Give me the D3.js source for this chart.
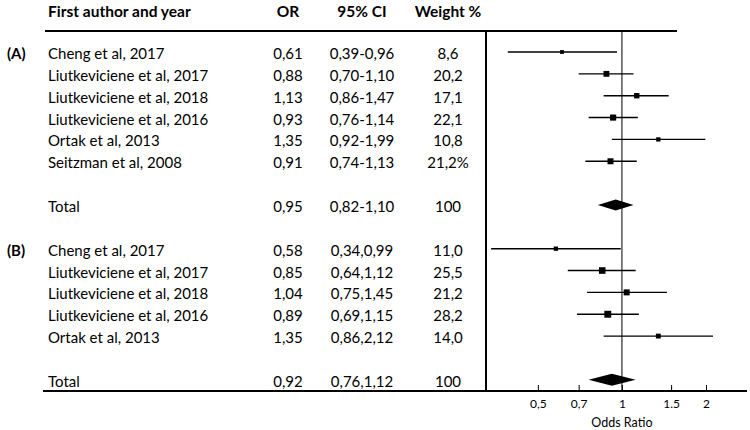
<!DOCTYPE html>
<html><head><meta charset="utf-8">
<script src="https://cdn.jsdelivr.net/npm/d3@7"></script>
<style>body{margin:0;background:#fff}svg{display:block}</style>
</head><body>
<svg id="chart" width="750" height="430"></svg>
<script>
// ---- data ----
const studiesA = ["Cheng et al, 2017","Liutkeviciene et al, 2017","Liutkeviciene et al, 2018","Liutkeviciene et al, 2016","Ortak et al, 2013","Seitzman et al, 2008"];
const orA = [0.61,0.88,1.13,0.93,1.35,0.91];
const lowA = [0.39,0.70,0.86,0.76,0.92,0.74];
const highA = [0.96,1.10,1.47,1.14,1.99,1.13];
const weightA = [8.6,20.2,17.1,22.1,10.8,21.2];
const orLabelsA = ["0,61","0,88","1,13","0,93","1,35","0,91"];
const ciLabelsA = ["0,39-0,96","0,70-1,10","0,86-1,47","0,76-1,14","0,92-1,99","0,74-1,13"];
const weightLabelsA = ["8,6","20,2","17,1","22,1","10,8","21,2%"];
const totalA = {or:0.95, low:0.82, high:1.10, orLabel:"0,95", ciLabel:"0,82-1,10", wLabel:"100"};

const studiesB = ["Cheng et al, 2017","Liutkeviciene et al, 2017","Liutkeviciene et al, 2018","Liutkeviciene et al, 2016","Ortak et al, 2013"];
const orB = [0.58,0.85,1.04,0.89,1.35];
const lowB = [0.34,0.64,0.75,0.69,0.86];
const highB = [0.99,1.12,1.45,1.15,2.12];
const weightB = [11.0,25.5,21.2,28.2,14.0];
const orLabelsB = ["0,58","0,85","1,04","0,89","1,35"];
const ciLabelsB = ["0,34,0,99","0,64,1,12","0,75,1,45","0,69,1,15","0,86,2,12"];
const weightLabelsB = ["11,0","25,5","21,2","28,2","14,0"];
const totalB = {or:0.92, low:0.76, high:1.12, orLabel:"0,92", ciLabel:"0,76,1,12", wLabel:"100"};

const tickValues = [0.5,0.7,1,1.5,2];
const tickLabels = ["0,5","0,7","1","1.5","2"];
const headers = ["First author and year","OR","95% CI","Weight %"];

// ---- layout ----
const svg = d3.select("#chart");
const FONT = "Lato, 'Open Sans', sans-serif";
const yTop = 31, yBottom = 391;
const plotL = 486, plotR = 747;
const x = d3.scaleLog().domain([0.326, 2.805]).range([plotL, plotR]);
const y = d3.scaleLinear().domain([0, 15]).range([52, 379.8]);
const colName = 48, colOR = 288, colCI = 362, colW = 448;

// rows
const rows = [];
studiesA.forEach((s,i)=>rows.push({idx:i, name:s, or:orA[i], low:lowA[i], high:highA[i], w:weightA[i], orL:orLabelsA[i], ciL:ciLabelsA[i], wL:weightLabelsA[i], group: i===0?"(A)":null}));
rows.push({idx:7, name:"Total", total:true, or:totalA.or, low:totalA.low, high:totalA.high, orL:totalA.orLabel, ciL:totalA.ciLabel, wL:totalA.wLabel});
studiesB.forEach((s,i)=>rows.push({idx:9+i, name:s, or:orB[i], low:lowB[i], high:highB[i], w:weightB[i], orL:orLabelsB[i], ciL:ciLabelsB[i], wL:weightLabelsB[i], group: i===0?"(B)":null}));
rows.push({idx:15, name:"Total", total:true, or:totalB.or, low:totalB.low, high:totalB.high, orL:totalB.orLabel, ciL:totalB.ciLabel, wL:totalB.wLabel});

// headers
const hx = [colName, colOR, colCI, colW];
const ha = ["start","middle","middle","middle"];
svg.selectAll("text.hdr").data(headers).join("text")
  .attr("class","hdr").attr("x",(d,i)=>hx[i]).attr("y",11)
  .attr("text-anchor",(d,i)=>ha[i]).attr("dominant-baseline","central")
  .attr("font-family",FONT).attr("font-weight","bold").attr("font-size",15.5).attr("fill","#000")
  .text(d=>d);

// lines
svg.append("line").attr("x1",45).attr("x2",677).attr("y1",yTop).attr("y2",yTop).attr("stroke","#000").attr("stroke-width",2.2);
svg.append("line").attr("x1",43).attr("x2",plotR).attr("y1",yBottom).attr("y2",yBottom).attr("stroke","#000").attr("stroke-width",2.2);
svg.append("line").attr("x1",plotL).attr("x2",plotL).attr("y1",yTop).attr("y2",yBottom).attr("stroke","#000").attr("stroke-width",2);
svg.append("line").attr("x1",x(1)).attr("x2",x(1)).attr("y1",yTop).attr("y2",yBottom).attr("stroke","#000").attr("stroke-width",1);

// table text
const g = svg.append("g").attr("font-family",FONT).attr("font-size",15).attr("fill","#000");
const rowG = g.selectAll("g.row").data(rows).join("g").attr("class","row");
rowG.filter(d=>d.group).append("text").attr("x",7).attr("y",d=>y(d.idx)+1).attr("dominant-baseline","central")
  .attr("font-weight","bold").text(d=>d.group);
rowG.append("text").attr("x",colName).attr("y",d=>y(d.idx)+1).attr("dominant-baseline","central").text(d=>d.name);
rowG.append("text").attr("x",colOR).attr("y",d=>y(d.idx)+1).attr("text-anchor","middle").attr("dominant-baseline","central").text(d=>d.orL);
rowG.append("text").attr("x",colCI).attr("y",d=>y(d.idx)+1).attr("text-anchor","middle").attr("dominant-baseline","central").text(d=>d.ciL);
rowG.append("text").attr("x",colW).attr("y",d=>y(d.idx)+1).attr("text-anchor","middle").attr("dominant-baseline","central").text(d=>d.wL);

// forest marks
const studies = rows.filter(d=>!d.total);
svg.selectAll("line.ci").data(studies).join("line").attr("class","ci")
  .attr("x1",d=>x(d.low)).attr("x2",d=>x(d.high)).attr("y1",d=>y(d.idx)).attr("y2",d=>y(d.idx))
  .attr("stroke","#000").attr("stroke-width",1.4);
const side = d => 1.3*Math.sqrt(d.w);
svg.selectAll("rect.pt").data(studies).join("rect").attr("class","pt")
  .attr("x",d=>x(d.or)-side(d)/2).attr("y",d=>y(d.idx)-side(d)/2)
  .attr("width",side).attr("height",side).attr("fill","#000");
const totals = rows.filter(d=>d.total);
svg.selectAll("path.dia").data(totals).join("path").attr("class","dia")
  .attr("d",d=>{const cy=y(d.idx), h=d.idx>10?6:5.5;
    return `M${x(d.low)},${cy}L${x(d.or)},${cy-h}L${x(d.high)},${cy}L${x(d.or)},${cy+h}Z`;})
  .attr("fill","#000");

// axis
const axis = d3.axisTop(x).tickValues(tickValues).tickFormat((d,i)=>tickLabels[i]).tickSize(6);
const ax = svg.append("g").attr("transform",`translate(0,${yBottom})`).call(axis);
ax.select(".domain").remove();
ax.selectAll(".tick line").attr("stroke","#000");
ax.selectAll(".tick text").attr("y",8).attr("dy","0.71em").attr("font-family",FONT).attr("font-size",12).attr("fill","#000");
svg.append("text").attr("x",x(1)).attr("y",422).attr("text-anchor","middle").attr("dominant-baseline","central")
  .attr("font-family",FONT).attr("font-size",12.5).text("Odds Ratio");
</script>
</body></html>
